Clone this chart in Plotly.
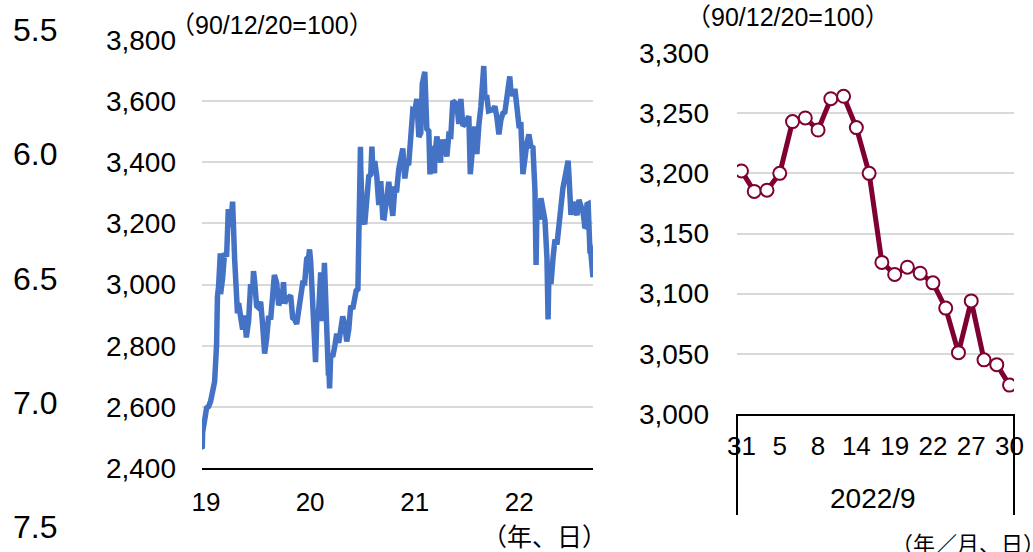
import plotly.graph_objects as go

FONT = "Liberation Sans, Arial, Noto Sans CJK JP, sans-serif"
BLUE = "#4472C4"
WINE = "#7f0032"
GRID = "#d9d9d9"

# Shanghai Composite (1990/12/20 = 100): weekly closes plus the sharpest daily swings
idx_dates = [
    "2019-01-02", "2019-01-03", "2019-01-04", "2019-01-11", "2019-01-18", "2019-01-25",
    "2019-02-01", "2019-02-15", "2019-02-22", "2019-02-25", "2019-03-01", "2019-03-07",
    "2019-03-08", "2019-03-15", "2019-03-22", "2019-03-29", "2019-04-04", "2019-04-12",
    "2019-04-19", "2019-04-26", "2019-05-06", "2019-05-10", "2019-05-17", "2019-05-24",
    "2019-05-31", "2019-06-06", "2019-06-14", "2019-06-21", "2019-06-28", "2019-07-01",
    "2019-07-05", "2019-07-12", "2019-07-19", "2019-07-26", "2019-08-02", "2019-08-06",
    "2019-08-09", "2019-08-16", "2019-08-23", "2019-08-30", "2019-09-06", "2019-09-12",
    "2019-09-20", "2019-09-27", "2019-10-11", "2019-10-14", "2019-10-18", "2019-10-25",
    "2019-11-01", "2019-11-08", "2019-11-15", "2019-11-22", "2019-11-29", "2019-12-06",
    "2019-12-13", "2019-12-20", "2019-12-27", "2019-12-31",
    "2020-01-03", "2020-01-10", "2020-01-13", "2020-01-17", "2020-01-23", "2020-02-03",
    "2020-02-07", "2020-02-14", "2020-02-21", "2020-02-28", "2020-03-05", "2020-03-06",
    "2020-03-13", "2020-03-19", "2020-03-20", "2020-03-23", "2020-03-27", "2020-04-03",
    "2020-04-10", "2020-04-17", "2020-04-24", "2020-04-30", "2020-05-08", "2020-05-15",
    "2020-05-22", "2020-05-29", "2020-06-05", "2020-06-12", "2020-06-19", "2020-06-24",
    "2020-06-30", "2020-07-03", "2020-07-06", "2020-07-09", "2020-07-10", "2020-07-16",
    "2020-07-17", "2020-07-24", "2020-07-31", "2020-08-07", "2020-08-14", "2020-08-18",
    "2020-08-21", "2020-08-28", "2020-09-04", "2020-09-11", "2020-09-18", "2020-09-25",
    "2020-09-30", "2020-10-09", "2020-10-16", "2020-10-23", "2020-10-30", "2020-11-06",
    "2020-11-13", "2020-11-20", "2020-11-27", "2020-12-04", "2020-12-11", "2020-12-18",
    "2020-12-25", "2020-12-31",
    "2021-01-08", "2021-01-15", "2021-01-22", "2021-01-29", "2021-02-05", "2021-02-10",
    "2021-02-18", "2021-02-19", "2021-02-26", "2021-03-05", "2021-03-09", "2021-03-12",
    "2021-03-19", "2021-03-25", "2021-03-26", "2021-04-02", "2021-04-09", "2021-04-15",
    "2021-04-16", "2021-04-23", "2021-04-30", "2021-05-07", "2021-05-14", "2021-05-21",
    "2021-05-28", "2021-06-04", "2021-06-11", "2021-06-18", "2021-06-25", "2021-07-02",
    "2021-07-09", "2021-07-16", "2021-07-23", "2021-07-28", "2021-07-30", "2021-08-06",
    "2021-08-13", "2021-08-20", "2021-08-27", "2021-09-03", "2021-09-13", "2021-09-17",
    "2021-09-24", "2021-09-30", "2021-10-15", "2021-10-22", "2021-10-29", "2021-11-05",
    "2021-11-12", "2021-11-19", "2021-11-26", "2021-12-03", "2021-12-13", "2021-12-17",
    "2021-12-24", "2021-12-31",
    "2022-01-07", "2022-01-14", "2022-01-21", "2022-01-28", "2022-02-11", "2022-02-18",
    "2022-02-25", "2022-03-04", "2022-03-11", "2022-03-15", "2022-03-18", "2022-03-25",
    "2022-04-01", "2022-04-08", "2022-04-15", "2022-04-22", "2022-04-26", "2022-04-29",
    "2022-05-06", "2022-05-13", "2022-05-20", "2022-05-27", "2022-06-02", "2022-06-10",
    "2022-06-17", "2022-06-24", "2022-07-01", "2022-07-05", "2022-07-08", "2022-07-15",
    "2022-07-22", "2022-07-29", "2022-08-05", "2022-08-12", "2022-08-19", "2022-08-26",
]
idx_values = [
    2465, 2464, 2515, 2554, 2596, 2601,
    2618, 2682, 2804, 2961, 2994, 3102,
    2969, 3021, 3104, 3091, 3247, 3189,
    3271, 3086, 2906, 2939, 2882, 2853,
    2899, 2827, 2882, 3001, 2979, 3044,
    3012, 2930, 2924, 2944, 2868, 2778,
    2774, 2824, 2898, 2886, 2999, 3031,
    3006, 2932, 2973, 3008, 2938, 2955,
    2958, 2964, 2891, 2886, 2871, 2912,
    2968, 3005, 3005, 3050,
    3084, 3092, 3115, 3075, 2976, 2746,
    2876, 2917, 3040, 2880, 3071, 3034,
    2888, 2703, 2746, 2660, 2772, 2764,
    2797, 2839, 2809, 2860, 2896, 2868,
    2814, 2852, 2931, 2920, 2967, 2980,
    2985, 3152, 3332, 3451, 3384, 3210,
    3214, 3197, 3310, 3354, 3360, 3451,
    3381, 3404, 3355, 3260, 3338, 3219,
    3218, 3272, 3336, 3278, 3225, 3312,
    3311, 3378, 3408, 3445, 3347, 3395,
    3397, 3473,
    3570, 3566, 3607, 3483, 3496, 3656,
    3690, 3696, 3509, 3502, 3360, 3454,
    3405, 3364, 3418, 3484, 3451, 3399,
    3427, 3474, 3447, 3419, 3490, 3487,
    3601, 3592, 3590, 3525, 3607, 3519,
    3525, 3539, 3550, 3361, 3397, 3458,
    3517, 3427, 3522, 3581, 3715, 3614,
    3613, 3568, 3572, 3583, 3547, 3491,
    3539, 3560, 3564, 3607, 3681, 3632,
    3618, 3640,
    3580, 3521, 3522, 3361, 3463, 3491,
    3452, 3448, 3310, 3064, 3251, 3212,
    3282, 3252, 3211, 3087, 2886, 3047,
    3002, 3084, 3147, 3131, 3195, 3285,
    3317, 3350, 3388, 3405, 3356, 3228,
    3270, 3253, 3227, 3277, 3258, 3236,
]

# Daily closes, 2022/8/31 - 2022/9/30
sep_dates = [
    "2022-08-31", "2022-09-01", "2022-09-02", "2022-09-05", "2022-09-06", "2022-09-07",
    "2022-09-08", "2022-09-09", "2022-09-13", "2022-09-14", "2022-09-15", "2022-09-16",
    "2022-09-19", "2022-09-20", "2022-09-21", "2022-09-22", "2022-09-23", "2022-09-26",
    "2022-09-27", "2022-09-28", "2022-09-29", "2022-09-30",
]
sep_values = [
    3202, 3185, 3186, 3200, 3243, 3246,
    3236, 3262, 3264, 3238, 3200, 3126,
    3116, 3122, 3117, 3109, 3088, 3051,
    3094, 3045, 3041, 3024,
]

year_ticks = ["2019-01-02", "2020-01-01", "2021-01-01", "2022-01-01"]
year_labels = ["19", "20", "21", "22"]
left_ticks = [2400, 2600, 2800, 3000, 3200, 3400, 3600, 3800]
right_ticks = [3000, 3050, 3100, 3150, 3200, 3250, 3300]
aux_ticks = [5.5, 6.0, 6.5, 7.0, 7.5]

day_ticks = sep_dates[::3]
day_labels = [str(int(d[-2:])) for d in day_ticks]

fig = go.Figure()

fig.add_trace(go.Scatter(
    x=idx_dates + sep_dates, y=idx_values + sep_values,
    mode="lines", line=dict(color=BLUE, width=5.5),
    xaxis="x", yaxis="y", showlegend=False, hoverinfo="x+y",
))

fig.add_trace(go.Scatter(
    x=sep_dates, y=sep_values,
    mode="lines+markers",
    line=dict(color=WINE, width=5),
    marker=dict(size=13, color="white", line=dict(color=WINE, width=2)),
    xaxis="x2", yaxis="y2", showlegend=False,
))

# placeholder trace so the stand-alone scale on the far left is drawn
fig.add_trace(go.Scatter(x=[None], y=[None], xaxis="x3", yaxis="y3",
                         showlegend=False, hoverinfo="skip"))

W, H = 1033, 552


def px(x):
    return x / W


def py(y):
    return 1 - y / H


ytick_font = dict(family=FONT, size=28, color="black")
xtick_font = dict(family=FONT, size=26, color="black")

fig.update_layout(
    width=W, height=H,
    margin=dict(l=0, r=0, t=0, b=0, pad=0, autoexpand=False),
    paper_bgcolor="white", plot_bgcolor="white",
    font=dict(family=FONT, color="black"),
    xaxis=dict(
        domain=[px(202), px(593)],
        type="date",
        range=["2019-01-02", "2022-09-30"],
        tickvals=year_ticks, ticktext=year_labels,
        tickfont=xtick_font, ticklabelstandoff=10, ticklabelshift=4,
        showgrid=False, zeroline=False,
        showline=True, linecolor="black", linewidth=2,
        anchor="y", automargin=False,
    ),
    yaxis=dict(
        domain=[py(468), py(40)],
        range=[2400, 3800],
        tickvals=left_ticks, tickformat=",",
        tickfont=ytick_font, ticklabelstandoff=25,
        showgrid=True, gridcolor=GRID, gridwidth=1.5,
        zeroline=False, showline=False,
        anchor="x", automargin=False,
    ),
    xaxis2=dict(
        domain=[px(737), px(1014)],
        type="category",
        range=[-0.35, len(sep_dates) - 0.65],
        tickvals=day_ticks, ticktext=day_labels,
        tickfont=xtick_font, ticklabelstandoff=8,
        showgrid=False, zeroline=False,
        showline=True, linecolor="black", linewidth=2,
        anchor="y2", automargin=False,
    ),
    yaxis2=dict(
        domain=[py(414), py(53)],
        range=[3000, 3300],
        tickvals=right_ticks, tickformat=",",
        tickfont=ytick_font, ticklabelstandoff=27,
        showgrid=True, gridcolor=GRID, gridwidth=1.5,
        zeroline=False, showline=False,
        anchor="x2", automargin=False,
    ),
    xaxis3=dict(
        domain=[0.0, px(70)], visible=False, anchor="y3",
    ),
    yaxis3=dict(
        domain=[py(527), py(30)],
        range=[7.5, 5.5],
        tickvals=aux_ticks, tickformat=".1f",
        tickfont=dict(family=FONT, size=32, color="black"),
        side="right", anchor="free", position=0.0,
        ticklabelstandoff=12,
        showgrid=False, zeroline=False, showline=False,
        automargin=False,
    ),
)

# category group box under the daily panel
for xd in (0, 1):
    fig.add_shape(type="line", xref="x2 domain", yref="paper",
                  x0=xd, x1=xd, y0=py(414), y1=py(515),
                  line=dict(color="black", width=2))

ann = [
    dict(text="（90/12/20=100）", x=px(168), y=py(25), xanchor="left", size=25),
    dict(text="（90/12/20=100）", x=px(684), y=py(17), xanchor="left", size=25),
    dict(text="（年、日）", x=px(609), y=py(537), xanchor="right", size=25),
    dict(text="（年／月、日）", x=px(889), y=py(544), xanchor="left", size=22),
    dict(text="2022/9", x=px(873), y=py(498), xanchor="center", size=28),
]
for a in ann:
    fig.add_annotation(text=a["text"], x=a["x"], y=a["y"], xref="paper", yref="paper",
                       xanchor=a["xanchor"], yanchor="middle", showarrow=False,
                       font=dict(family=FONT, size=a["size"], color="black"))

fig.write_html("out.html")
